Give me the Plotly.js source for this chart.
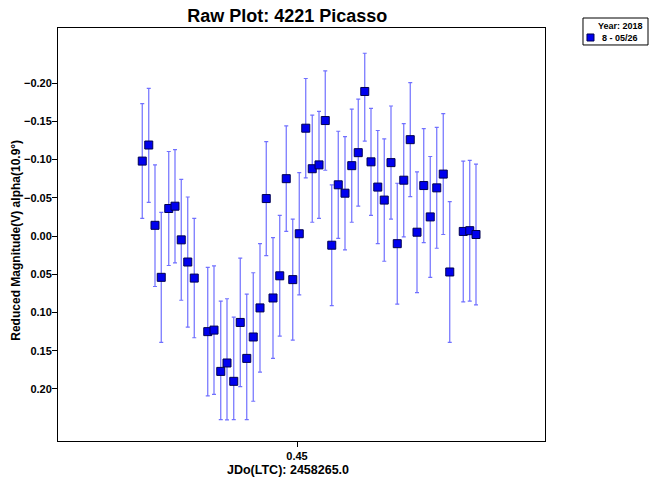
<!DOCTYPE html>
<html>
<head>
<meta charset="utf-8">
<script src="https://cdn.plot.ly/plotly-3.0.1.min.js"></script>
<style>body{margin:0;padding:0;background:#fff}#chart{width:650px;height:480px}</style>
</head>
<body>
<div id="chart"></div>
<script>
// JD fraction (offset from 2458265.0)
const jd = [0.3881,0.3907,0.3932,0.3957,0.3987,0.4012,0.4037,0.4063,0.4089,
  0.4143,0.4168,0.4195,0.4220,0.4247,0.4273,0.4299,0.4325,0.4352,0.4377,0.4404,
  0.4431,0.4457,0.4483,0.4509,0.4535,0.4561,0.4588,0.4613,0.4639,0.4665,0.4692,
  0.4719,0.4745,0.4771,0.4796,0.4823,0.4849,0.4876,0.4901,0.4927,0.4953,0.4980,
  0.5007,0.5033,0.5059,0.5085,0.5111,0.5165,0.5191,0.5216];
// Reduced magnitude
const mag = [-0.098,-0.119,-0.014,0.054,-0.036,-0.039,0.005,0.034,0.055,
  0.125,0.123,0.177,0.166,0.190,0.113,0.160,0.132,0.094,-0.049,0.081,
  0.052,-0.075,0.057,-0.003,-0.141,-0.088,-0.093,-0.151,0.012,-0.067,-0.056,
  -0.092,-0.109,-0.189,-0.097,-0.064,-0.047,-0.096,0.010,-0.073,-0.126,-0.005,
  -0.066,-0.025,-0.063,-0.081,0.047,-0.006,-0.007,-0.002];
// error bar extents (plus = toward fainter / down, minus = toward brighter / up)
const errPlus = [0.075,0.075,0.080,0.085,0.0745,0.074,0.079,0.085,0.078,
  0.084,0.084,0.063,0.0745,0.050,0.084,0.080,0.084,0.084,0.0745,0.079,
  0.079,0.069,0.079,0.080,0.065,0.070,0.070,0.065,0.079,0.070,0.074,
  0.074,0.070,0.065,0.070,0.074,0.080,0.074,0.079,0.074,0.0745,0.079,
  0.0745,0.079,0.079,0.079,0.092,0.092,0.092,0.092];
const errMinus = [0.075,0.074,0.079,0.085,0.0745,0.074,0.079,0.085,0.078,
  0.084,0.084,0.092,0.084,0.084,0.084,0.084,0.084,0.084,0.0745,0.079,
  0.079,0.069,0.079,0.080,0.065,0.070,0.070,0.065,0.079,0.070,0.074,
  0.074,0.070,0.050,0.070,0.074,0.080,0.074,0.079,0.074,0.0745,0.079,
  0.0745,0.079,0.079,0.079,0.092,0.092,0.092,0.092];
const yTicks = [-0.20,-0.15,-0.10,-0.05,0.00,0.05,0.10,0.15,0.20];
const xTicks = [0.45];
const xTickText = ['0.45'];
const seriesName = '8 - 05/26';
const legendTitle = 'Year: 2018';
const titleText = 'Raw Plot: 4221 Picasso';
const xTitle = 'JDo(LTC): 2458265.0';
const yTitle = 'Reduced Magnitude(V) alpha(10.9°)';

const F = 'Liberation Sans, Arial, sans-serif';
const MARKER_COLOR = '#0000ee', MARKER_EDGE = '#000050';
const bold = (size) => ({family: F, size: size, weight: 'bold', color: '#000'});

const trace = {
  x: jd, y: mag, type: 'scatter', mode: 'markers', name: seriesName, showlegend: false,
  marker: {symbol: 'square', size: 8, color: MARKER_COLOR, line: {color: MARKER_EDGE, width: 1}},
  error_y: {type: 'data', symmetric: false, array: errPlus, arrayminus: errMinus,
    color: '#7070ff', thickness: 1.2, width: 2}
};

const layout = {
  width: 650, height: 480,
  margin: {l: 58, r: 105, t: 28, b: 39, autoexpand: false},
  paper_bgcolor: '#fff', plot_bgcolor: '#fff',
  showlegend: false,
  title: {text: titleText, font: bold(18), x: 0.442, xanchor: 'center', y: 0.968, yanchor: 'middle'},
  xaxis: {range: [0.3544, 0.5492], tickvals: xTicks, ticktext: xTickText, ticks: 'outside', ticklen: 5,
    tickcolor: '#000', showgrid: false, zeroline: false, showline: true, linecolor: '#000', linewidth: 1,
    mirror: true, tickfont: bold(11)},
  yaxis: {range: [0.268, -0.272], tickvals: yTicks, tickformat: '.2f', ticks: 'outside', ticklen: 5,
    ticklabelstandoff: -2,
    tickcolor: '#000', showgrid: false, zeroline: false, showline: true, linecolor: '#000', linewidth: 1,
    mirror: true, tickfont: bold(11)},
  shapes: [
    {type: 'rect', xref: 'paper', yref: 'paper', x0: 1.078, x1: 1.2115, y0: 0.9589, y1: 1.0242,
      line: {color: '#000', width: 1}, fillcolor: '#fff', layer: 'above'},
    {type: 'rect', xref: 'paper', yref: 'paper', x0: 1.0862, x1: 1.1006, y0: 0.9685, y1: 0.9855,
      line: {color: MARKER_EDGE, width: 1}, fillcolor: MARKER_COLOR, layer: 'above'}
  ],
  annotations: [
    {text: legendTitle, xref: 'paper', yref: 'paper', x: 1.2053, y: 1.0048, xanchor: 'right', yanchor: 'middle',
      showarrow: false, font: bold(9)},
    {text: seriesName, xref: 'paper', yref: 'paper', x: 1.1129, y: 0.9758, xanchor: 'left', yanchor: 'middle',
      showarrow: false, font: bold(9)},
    {text: xTitle, xref: 'paper', yref: 'paper', x: 0.4733, y: -0.0702, xanchor: 'center', yanchor: 'middle',
      showarrow: false, font: bold(12.5)},
    {text: yTitle, xref: 'paper', yref: 'paper', x: -0.0862, y: 0.485, xanchor: 'center', yanchor: 'middle',
      textangle: -90, showarrow: false, font: bold(12)}
  ]
};

Plotly.newPlot('chart', [trace], layout, {displayModeBar: false, staticPlot: true});
</script>
</body>
</html>
